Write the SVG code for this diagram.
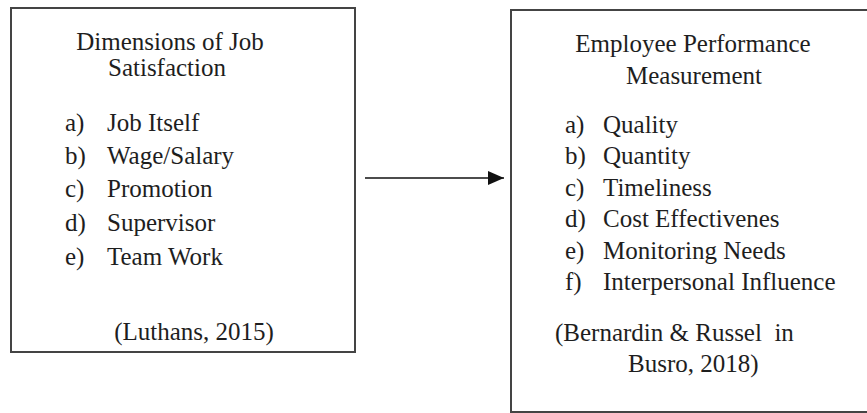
<svg xmlns="http://www.w3.org/2000/svg" width="867" height="413" viewBox="0 0 867 413">
<defs>
<style>
.box{fill:#fff;stroke:#444;stroke-width:2}
text{font-family:"Liberation Serif","Times New Roman",serif;font-size:25px;fill:#1e1e1e}
.c{text-anchor:middle}
.edge{stroke:#111;stroke-width:1.5;fill:none}
</style>
<marker id="ah" viewBox="0 0 16 14" refX="16" refY="7" markerWidth="16" markerHeight="14" markerUnits="userSpaceOnUse" orient="auto">
<path d="M0,0 L16,7 L0,14 Z" fill="#111"/>
</marker>
</defs>
<rect width="867" height="413" fill="#fff"/>
<g id="node-job-satisfaction">
<rect class="box" x="11" y="8" width="344" height="344"/>
<text class="c" x="170" y="50">Dimensions of Job</text>
<text class="c" x="167" y="76">Satisfaction</text>
<text x="65" y="131">a)</text><text x="107" y="131">Job Itself</text>
<text x="65" y="164">b)</text><text x="107" y="164">Wage/Salary</text>
<text x="65" y="197">c)</text><text x="107" y="197">Promotion</text>
<text x="65" y="231">d)</text><text x="107" y="231">Supervisor</text>
<text x="65" y="265">e)</text><text x="107" y="265">Team Work</text>
<text class="c" x="194" y="340">(Luthans, 2015)</text>
</g>
<g id="node-employee-performance">
<rect class="box" x="511" y="10" width="366" height="402"/>
<text class="c" x="693" y="52">Employee Performance</text>
<text class="c" x="694" y="84">Measurement</text>
<text x="565" y="133">a)</text><text x="603" y="133">Quality</text>
<text x="565" y="164">b)</text><text x="603" y="164">Quantity</text>
<text x="565" y="196">c)</text><text x="603" y="196">Timeliness</text>
<text x="565" y="227">d)</text><text x="603" y="227">Cost Effectivenes</text>
<text x="565" y="259">e)</text><text x="603" y="259">Monitoring Needs</text>
<text x="565" y="290">f)</text><text x="603" y="290">Interpersonal Influence</text>
<text x="555" y="341" xml:space="preserve">(Bernardin &amp; Russel  in</text>
<text x="628" y="372">Busro, 2018)</text>
</g>
<g id="connectors">
<line class="edge" x1="365" y1="178" x2="504" y2="178" marker-end="url(#ah)"/>
</g>
</svg>
